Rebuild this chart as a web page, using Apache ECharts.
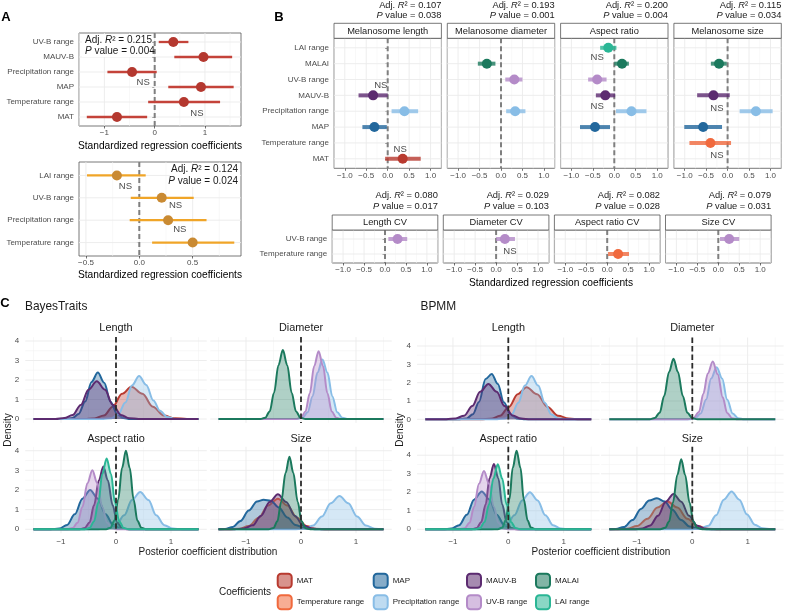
<!DOCTYPE html>
<html>
<head>
<meta charset="utf-8">
<script src="https://cdn.jsdelivr.net/npm/echarts@6/dist/echarts.min.js"></script>
<style>html,body{margin:0;padding:0;background:#fff}#chart{width:785px;height:611px}</style>
</head>
<body>
<div id="chart"></div>
<script>
var FONT = "'Liberation Sans', Arial, Helvetica, sans-serif";

// coefficients, legend order
var coefNames = ['MAT', 'Temperature range', 'MAP', 'Precipitation range', 'MAUV-B', 'UV-B range', 'MALAI', 'LAI range'];
var coefColors = ['#B83A2F', '#F0693D', '#22679C', '#88BDE6', '#5C2B70', '#B48BC8', '#1B795D', '#2AB695'];

// panel A (top: red model, bottom: orange model)
var aTopCats = ['UV-B range', 'MAUV-B', 'Precipitation range', 'MAP', 'Temperature range', 'MAT'];
var aTopEst = [0.37, 0.97, -0.45, 0.92, 0.58, -0.75];
var aTopLo = [0.08, 0.39, -0.94, 0.27, -0.13, -1.35];
var aTopHi = [0.67, 1.54, 0.04, 1.57, 1.30, -0.15];
var aTopNs = [[-0.23, 3.67], [0.84, 5.78]];
var aBotCats = ['LAI range', 'UV-B range', 'Precipitation range', 'Temperature range'];
var aBotEst = [-0.21, 0.21, 0.27, 0.50];
var aBotLo = [-0.49, -0.08, -0.09, 0.12];
var aBotHi = [0.06, 0.51, 0.63, 0.89];
var aBotNs = [[-0.13, 1.47], [0.34, 2.36], [0.38, 3.41]];

// panel B
var bCats = ['LAI range', 'MALAI', 'UV-B range', 'MAUV-B', 'Precipitation range', 'MAP', 'Temperature range', 'MAT'];
var bTitles = ['Melanosome length', 'Melanosome diameter', 'Aspect ratio', 'Melanosome size'];
var bR2 = ['0.107', '0.193', '0.200', '0.115'];
var bP = ['0.038', '0.001', '0.004', '0.034'];
// rows: [coefficient, estimate, lower, upper]
var bLength = [['MAUV-B', -0.34, -0.68, 0.0], ['Precipitation range', 0.39, 0.09, 0.71], ['MAP', -0.31, -0.59, -0.02], ['MAT', 0.35, -0.06, 0.77]];
var bDiameter = [['MALAI', -0.33, -0.54, -0.13], ['UV-B range', 0.31, 0.10, 0.50], ['Precipitation range', 0.33, 0.12, 0.57]];
var bAspect = [['LAI range', -0.14, -0.33, 0.05], ['MALAI', 0.18, 0.0, 0.34], ['UV-B range', -0.40, -0.61, -0.18], ['MAUV-B', -0.21, -0.43, 0.02], ['Precipitation range', 0.40, 0.04, 0.75], ['MAP', -0.45, -0.80, -0.10]];
var bSize = [['MALAI', -0.20, -0.39, -0.02], ['MAUV-B', -0.33, -0.71, 0.05], ['Precipitation range', 0.66, 0.28, 1.05], ['MAP', -0.57, -1.01, -0.13], ['Temperature range', -0.40, -0.89, 0.08]];
var bNs = [[[-0.16, 3.39], [0.29, 7.43]], [], [[-0.40, 1.58], [-0.40, 4.72]], [[-0.25, 4.80], [-0.25, 7.78]]];

var cvCats = ['UV-B range', 'Temperature range'];
var cvTitles = ['Length CV', 'Diameter CV', 'Aspect ratio CV', 'Size CV'];
var cvR2 = ['0.080', '0.029', '0.082', '0.079'];
var cvP = ['0.017', '0.103', '0.028', '0.031'];
var cvRows = [[['UV-B range', 0.30, 0.08, 0.53]], [['UV-B range', 0.21, 0.0, 0.45]], [['Temperature range', 0.26, 0.02, 0.52]], [['UV-B range', 0.26, 0.04, 0.50]]];
var cvNs = [[], [[0.33, 1.8]], [], []];

// panel C, posterior densities: [coefficient, [[x, density], ...]]
var btLength = [
    ['MAT', [[-1.5, 0], [-0.58, 0], [-0.39, 0.03], [-0.22, 0.18], [-0.06, 0.63], [0.11, 1.29], [0.28, 1.65], [0.48, 1.29], [0.67, 0.63], [0.87, 0.18], [1.06, 0.04], [1.29, 0], [1.5, 0]]],
    ['MAP', [[-1.5, 0], [-0.92, 0], [-0.79, 0.05], [-0.68, 0.26], [-0.56, 0.9], [-0.445, 1.9], [-0.33, 2.38], [-0.215, 1.86], [-0.1, 0.89], [0.02, 0.26], [0.13, 0.05], [0.26, 0], [1.5, 0]]],
    ['Precipitation range', [[-1.5, 0], [-0.23, 0], [-0.08, 0.04], [0.04, 0.24], [0.17, 0.84], [0.29, 1.72], [0.42, 2.2], [0.55, 1.75], [0.68, 0.95], [0.8, 0.42], [0.93, 0.1], [1.08, 0], [1.5, 0]]],
    ['MAUV-B', [[-1.5, 0], [-1.1, 0], [-0.94, 0.05], [-0.79, 0.2], [-0.64, 0.72], [-0.5, 1.5], [-0.35, 1.93], [-0.2, 1.5], [-0.06, 0.73], [0.09, 0.21], [0.24, 0.04], [0.41, 0], [1.5, 0]]]
];
var btDiameter = [
    ['Precipitation range', [[-1.5, 0], [-0.08, 0], [0.03, 0.06], [0.12, 0.34], [0.21, 1.16], [0.3, 2.38], [0.39, 3.05], [0.48, 2.38], [0.57, 1.16], [0.66, 0.34], [0.75, 0.06], [0.86, 0], [1.5, 0]]],
    ['UV-B range', [[-1.5, 0], [-0.09, 0], [0.0, 0.07], [0.08, 0.38], [0.16, 1.32], [0.24, 2.72], [0.32, 3.48], [0.4, 2.72], [0.48, 1.32], [0.56, 0.38], [0.64, 0.07], [0.73, 0], [1.5, 0]]],
    ['MALAI', [[-1.5, 0], [-0.74, 0], [-0.65, 0.07], [-0.57, 0.39], [-0.49, 1.35], [-0.41, 2.76], [-0.33, 3.54], [-0.25, 2.76], [-0.17, 1.35], [-0.09, 0.39], [-0.01, 0.07], [0.08, 0], [1.5, 0]]]
];
var btAspect = [
    ['MAP', [[-1.5, 0], [-1.19, 0], [-1.03, 0.04], [-0.89, 0.22], [-0.75, 0.76], [-0.61, 1.56], [-0.47, 2.0], [-0.33, 1.56], [-0.19, 0.76], [-0.05, 0.22], [0.09, 0.04], [0.25, 0], [1.5, 0]]],
    ['Precipitation range', [[-1.5, 0], [-0.32, 0], [-0.15, 0.04], [0.0, 0.21], [0.15, 0.71], [0.29, 1.49], [0.44, 1.9], [0.59, 1.49], [0.73, 0.71], [0.88, 0.21], [1.03, 0.04], [1.2, 0], [1.5, 0]]],
    ['MAUV-B', [[-1.5, 0], [-0.66, 0], [-0.57, 0.06], [-0.48, 0.35], [-0.4, 1.22], [-0.31, 2.5], [-0.23, 3.2], [-0.15, 2.5], [-0.06, 1.22], [0.02, 0.35], [0.11, 0.06], [0.2, 0], [1.5, 0]]],
    ['UV-B range', [[-1.5, 0], [-0.9, 0], [-0.79, 0.06], [-0.7, 0.33], [-0.61, 1.14], [-0.52, 2.34], [-0.43, 3.0], [-0.34, 2.34], [-0.25, 1.14], [-0.16, 0.33], [-0.07, 0.06], [0.04, 0], [1.5, 0]]],
    ['MALAI', [[-1.5, 0], [-0.18, 0], [-0.1, 0.08], [-0.03, 0.44], [0.04, 1.52], [0.11, 3.12], [0.18, 4.0], [0.25, 3.12], [0.32, 1.52], [0.39, 0.44], [0.46, 0.08], [0.54, 0], [1.5, 0]]],
    ['LAI range', [[-1.5, 0], [-0.57, 0], [-0.48, 0.07], [-0.4, 0.4], [-0.32, 1.37], [-0.25, 2.81], [-0.17, 3.6], [-0.09, 2.81], [-0.02, 1.37], [0.06, 0.4], [0.14, 0.07], [0.23, 0], [1.5, 0]]]
];
var btSize = [
    ['Temperature range', [[-1.5, 0], [-1.32, 0], [-1.12, 0.03], [-0.95, 0.17], [-0.77, 0.59], [-0.6, 1.21], [-0.42, 1.55], [-0.25, 1.21], [-0.07, 0.59], [0.1, 0.17], [0.28, 0.03], [0.48, 0], [1.5, 0]]],
    ['MAP', [[-1.5, 0], [-1.38, 0.02], [-1.24, 0.12], [-1.1, 0.42], [-0.95, 0.95], [-0.8, 1.42], [-0.68, 1.5], [-0.55, 1.45], [-0.4, 1.1], [-0.25, 0.6], [-0.1, 0.22], [0.08, 0.04], [0.25, 0], [1.5, 0]]],
    ['Precipitation range', [[-1.5, 0], [-0.13, 0], [0.06, 0.03], [0.22, 0.19], [0.38, 0.65], [0.54, 1.33], [0.7, 1.7], [0.86, 1.33], [1.02, 0.65], [1.18, 0.19], [1.34, 0.03], [1.5, 0]]],
    ['MAUV-B', [[-1.5, 0], [-1.21, 0], [-1.04, 0.04], [-0.88, 0.2], [-0.73, 0.68], [-0.57, 1.39], [-0.42, 1.78], [-0.27, 1.39], [-0.11, 0.68], [0.04, 0.2], [0.2, 0.04], [0.37, 0], [1.5, 0]]],
    ['MALAI', [[-1.5, 0], [-0.59, 0], [-0.5, 0.07], [-0.43, 0.41], [-0.36, 1.4], [-0.28, 2.88], [-0.21, 3.69], [-0.14, 2.88], [-0.06, 1.4], [0.01, 0.41], [0.08, 0.07], [0.17, 0], [1.5, 0]]]
];
var bpLength = [
    ['MAT', [[-1.5, 0], [-0.5, 0], [-0.31, 0.03], [-0.15, 0.19], [0.01, 0.67], [0.17, 1.37], [0.33, 1.75], [0.52, 1.37], [0.71, 0.67], [0.9, 0.19], [1.09, 0.04], [1.3, 0], [1.5, 0]]],
    ['MAP', [[-1.5, 0], [-0.88, 0], [-0.75, 0.05], [-0.64, 0.28], [-0.53, 0.95], [-0.41, 2.2], [-0.3, 2.47], [-0.19, 1.93], [-0.08, 0.93], [0.04, 0.27], [0.15, 0.05], [0.28, 0], [1.5, 0]]],
    ['Precipitation range', [[-1.5, 0], [-0.2, 0], [-0.06, 0.05], [0.06, 0.26], [0.18, 0.9], [0.3, 1.84], [0.42, 2.36], [0.54, 1.84], [0.66, 0.9], [0.78, 0.26], [0.9, 0.05], [1.04, 0], [1.5, 0]]],
    ['MAUV-B', [[-1.5, 0], [-1.12, 0], [-0.95, 0.05], [-0.8, 0.2], [-0.65, 0.72], [-0.51, 1.5], [-0.36, 1.93], [-0.21, 1.5], [-0.07, 0.73], [0.08, 0.21], [0.23, 0.04], [0.4, 0], [1.5, 0]]]
];
var bpDiameter = [
    ['Precipitation range', [[-1.5, 0], [-0.06, 0], [0.05, 0.06], [0.15, 0.31], [0.25, 1.08], [0.34, 2.22], [0.44, 2.84], [0.54, 2.22], [0.63, 1.08], [0.73, 0.31], [0.83, 0.06], [0.94, 0], [1.5, 0]]],
    ['UV-B range', [[-1.5, 0], [-0.08, 0], [0.02, 0.07], [0.12, 0.4], [0.2, 1.4], [0.28, 2.5], [0.37, 3.15], [0.46, 2.46], [0.55, 1.2], [0.63, 0.35], [0.72, 0.06], [0.82, 0], [1.5, 0]]],
    ['MALAI', [[-1.5, 0], [-0.77, 0], [-0.68, 0.07], [-0.59, 0.36], [-0.51, 1.26], [-0.42, 2.58], [-0.34, 3.31], [-0.26, 2.58], [-0.17, 1.26], [-0.09, 0.36], [0.0, 0.07], [0.09, 0], [1.5, 0]]]
];
var bpAspect = [
    ['MAP', [[-1.5, 0], [-1.18, 0], [-1.03, 0.04], [-0.89, 0.22], [-0.75, 0.78], [-0.62, 1.6], [-0.48, 2.04], [-0.34, 1.6], [-0.21, 0.78], [-0.07, 0.22], [0.07, 0.04], [0.22, 0], [1.5, 0]]],
    ['Precipitation range', [[-1.5, 0], [-0.33, 0], [-0.17, 0.04], [-0.03, 0.22], [0.11, 0.76], [0.25, 1.56], [0.39, 2.0], [0.53, 1.56], [0.67, 0.76], [0.81, 0.22], [0.95, 0.04], [1.11, 0], [1.5, 0]]],
    ['MAUV-B', [[-1.5, 0], [-0.66, 0], [-0.57, 0.07], [-0.49, 0.39], [-0.41, 1.34], [-0.34, 2.75], [-0.26, 3.53], [-0.18, 2.75], [-0.11, 1.34], [-0.03, 0.39], [0.05, 0.07], [0.14, 0], [1.5, 0]]],
    ['UV-B range', [[-1.5, 0], [-0.89, 0], [-0.79, 0.06], [-0.7, 0.35], [-0.62, 1.2], [-0.53, 2.46], [-0.44, 3.15], [-0.35, 2.46], [-0.26, 1.2], [-0.18, 0.35], [-0.09, 0.06], [0.01, 0], [1.5, 0]]],
    ['MALAI', [[-1.5, 0], [-0.19, 0], [-0.11, 0.09], [-0.05, 0.47], [0.02, 1.62], [0.08, 3.32], [0.15, 4.25], [0.22, 3.32], [0.28, 1.62], [0.35, 0.47], [0.41, 0.09], [0.49, 0], [1.5, 0]]],
    ['LAI range', [[-1.5, 0], [-0.6, 0], [-0.51, 0.07], [-0.43, 0.39], [-0.35, 1.33], [-0.27, 2.74], [-0.19, 3.51], [-0.11, 2.74], [-0.03, 1.33], [0.05, 0.39], [0.13, 0.07], [0.22, 0], [1.5, 0]]]
];
var bpSize = [
    ['Temperature range', [[-1.5, 0], [-1.39, 0], [-1.18, 0.03], [-1.0, 0.17], [-0.81, 0.57], [-0.63, 1.17], [-0.45, 1.5], [-0.27, 1.17], [-0.09, 0.57], [0.1, 0.17], [0.28, 0.03], [0.49, 0], [1.5, 0]]],
    ['MAP', [[-1.5, 0], [-1.38, 0.02], [-1.24, 0.12], [-1.08, 0.5], [-0.93, 1.1], [-0.78, 1.55], [-0.64, 1.68], [-0.5, 1.5], [-0.36, 1.05], [-0.2, 0.5], [-0.05, 0.15], [0.12, 0.02], [0.3, 0], [1.5, 0]]],
    ['Precipitation range', [[-1.5, 0], [-0.04, 0], [0.13, 0.03], [0.29, 0.19], [0.43, 0.76], [0.57, 1.6], [0.71, 2.04], [0.85, 1.6], [0.99, 0.8], [1.13, 0.25], [1.27, 0.05], [1.42, 0], [1.5, 0]]],
    ['MAUV-B', [[-1.5, 0], [-1.06, 0], [-0.9, 0.04], [-0.76, 0.21], [-0.62, 0.73], [-0.48, 1.49], [-0.34, 1.91], [-0.2, 1.49], [-0.06, 0.73], [0.08, 0.21], [0.22, 0.04], [0.38, 0], [1.5, 0]]],
    ['MALAI', [[-1.5, 0], [-0.58, 0], [-0.49, 0.08], [-0.42, 0.42], [-0.35, 1.44], [-0.27, 2.95], [-0.2, 3.78], [-0.13, 2.95], [-0.05, 1.44], [0.02, 0.42], [0.09, 0.08], [0.18, 0], [1.5, 0]]]
];

var grids = [], xAxes = [], yAxes = [], series = [], graphics = [];

function colorOf(name) { return coefColors[coefNames.indexOf(name)]; }
function fade(hex, a) {
    var n = parseInt(hex.slice(1), 16);
    return 'rgba(' + (n >> 16) + ',' + ((n >> 8) & 255) + ',' + (n & 255) + ',' + a + ')';
}
function num(v, d) { return (v < 0 ? '\u2212' : '') + Math.abs(v).toFixed(d); }
function seq(n) { var r = []; for (var i = 1; i <= n; i++) r.push(i); return r; }

function addGrid(box, x, y) {
    grids.push(box);
    var i = grids.length - 1;
    x.gridIndex = i; y.gridIndex = i;
    xAxes.push(x); yAxes.push(y);
    return i;
}

function txt(x, y, text, o) {
    o = o || {};
    var al = o.align || 'center';
    graphics.push({
        type: 'text', x: x, y: y, z: 100, silent: true, rotation: o.rot || 0,
        style: {
            text: text, fill: o.color || '#1A1A1A', fontSize: o.size || 10, fontFamily: FONT,
            fontWeight: o.weight || 'normal', align: al, textAlign: al,
            verticalAlign: 'middle', textVerticalAlign: 'middle', rich: o.rich
        }
    });
}
function rect(x, y, w, h, fill, stroke) {
    graphics.push({
        type: 'rect', z: 90, silent: true, shape: {x: x, y: y, width: w, height: h},
        style: {fill: fill, stroke: stroke || null, lineWidth: stroke ? 0.8 : 0}
    });
}
function statText(x, y1, y2, r2, p, align, size) {
    var rich = {
        a: {fontSize: size, fontFamily: FONT, fill: '#1A1A1A'},
        i: {fontSize: size, fontFamily: FONT, fill: '#1A1A1A', fontStyle: 'italic'}
    };
    txt(x, y1, '{a|Adj. }{i|R}{a|\u00B2 = ' + r2 + '}', {align: align, rich: rich, size: size});
    txt(x, y2, '{i|P}{a| value = ' + p + '}', {align: align, rich: rich, size: size});
}

// straight reference lines through the library's scales
function refLines(gi, vals, orient, style, z, ref) {
    series.push({
        type: 'custom', xAxisIndex: gi, yAxisIndex: gi, silent: true, z: z,
        data: vals.map(function (v) { return orient === 'v' ? [v, ref] : [ref, v]; }),
        renderItem: function (params, api) {
            var cs = params.coordSys, p = api.coord([api.value(0), api.value(1)]);
            var shape = orient === 'v'
                ? {x1: p[0], y1: cs.y, x2: p[0], y2: cs.y + cs.height}
                : {x1: cs.x, y1: p[1], x2: cs.x + cs.width, y2: p[1]};
            return {type: 'line', shape: shape, style: style};
        }
    });
}

function nsLabels(gi, pts) {
    if (!pts.length) return;
    series.push({
        type: 'custom', xAxisIndex: gi, yAxisIndex: gi, silent: true, z: 6,
        data: pts,
        renderItem: function (params, api) {
            var p = api.coord([api.value(0), api.value(1)]);
            return {
                type: 'text', x: p[0], y: p[1],
                style: {text: 'NS', fill: '#4D4D4D', fontSize: 9.5, fontFamily: FONT,
                    align: 'center', textAlign: 'center', verticalAlign: 'middle', textVerticalAlign: 'middle'}
            };
        }
    });
}

function bwX(min, max, ticks, dec, showLabel) {
    return {
        type: 'value', min: min, max: max,
        axisLine: {show: false}, splitLine: {show: false},
        axisTick: {show: true, customValues: ticks, length: 2.5, lineStyle: {color: '#333', width: 0.7}},
        axisLabel: {show: showLabel, customValues: ticks, margin: 3, fontSize: 8, color: '#4D4D4D', fontFamily: FONT,
            formatter: function (v) { return num(v, dec); }}
    };
}
function bwY(cats, showLabel) {
    return {
        type: 'value', min: 0.4, max: cats.length + 0.6, inverse: true,
        axisLine: {show: false}, splitLine: {show: false},
        axisTick: {show: showLabel, customValues: seq(cats.length), length: 2.5, lineStyle: {color: '#333', width: 0.7}},
        axisLabel: {show: showLabel, customValues: seq(cats.length), margin: 5, fontSize: 8, color: '#4D4D4D', fontFamily: FONT,
            formatter: function (v) { return cats[Math.round(v) - 1]; }}
    };
}

// one coefficient panel: rows [[name, est, lo, hi]]
function coefPanel(box, xr, ticks, minor, dec, cats, rows, ns, o) {
    var gi = addGrid(Object.assign({show: true, borderColor: '#555', borderWidth: 0.8, backgroundColor: '#fff'}, box),
        bwX(xr[0], xr[1], ticks, dec, true), bwY(cats, o.showY));
    refLines(gi, minor, 'v', {stroke: '#F3F3F3', lineWidth: 0.6}, 1, 1);
    refLines(gi, ticks, 'v', {stroke: '#EBEBEB', lineWidth: 0.9}, 1, 1);
    refLines(gi, seq(cats.length), 'h', {stroke: '#EBEBEB', lineWidth: 0.9}, 1, 0);
    refLines(gi, [0], 'v', {stroke: '#7F7F7F', lineWidth: 2, lineDash: [5, 3]}, 2, 1);
    var idx = rows.map(function (r) { return cats.indexOf(r[0]) + 1; });
    var barCol = rows.map(function (r) { return o.barColor || colorOf(r[0]); });
    var dotCol = rows.map(function (r) { return o.dotColor || colorOf(r[0]); });
    series.push({
        type: 'custom', xAxisIndex: gi, yAxisIndex: gi, silent: true, z: 3,
        encode: {x: [0, 1], y: 2},
        data: rows.map(function (r, i) { return [r[2], r[3], idx[i]]; }),
        renderItem: function (params, api) {
            var a = api.coord([api.value(0), api.value(2)]), b = api.coord([api.value(1), api.value(2)]);
            return {type: 'line', shape: {x1: a[0], y1: a[1], x2: b[0], y2: b[1]},
                style: {stroke: barCol[params.dataIndex], lineWidth: o.barWidth, opacity: o.barOpacity}};
        }
    });
    series.push({
        type: 'scatter', xAxisIndex: gi, yAxisIndex: gi, silent: true, z: 4, symbolSize: o.dot,
        data: rows.map(function (r, i) { return {value: [r[1], idx[i]], itemStyle: {color: dotCol[i], opacity: 1}}; })
    });
    nsLabels(gi, ns);
    return gi;
}

// ---------- panel A ----------
txt(6, 17, 'A', {size: 13, weight: 'bold', color: '#000'});
function rowsOf(cats, est, lo, hi) { return cats.map(function (c, i) { return [c, est[i], lo[i], hi[i]]; }); }
coefPanel({left: 79, top: 33, width: 162, height: 93}, [-1.505, 1.716], [-1, 0, 1], [-1.5, -0.5, 0.5, 1.5], 0,
    aTopCats, rowsOf(aTopCats, aTopEst, aTopLo, aTopHi), aTopNs,
    {showY: true, dotColor: '#B4382F', barColor: '#C4433A', barWidth: 2.3, barOpacity: 1, dot: 10});
rect(82, 34, 70, 23, '#fff');
statText(85, 40.5, 51.5, '0.215', '0.004', 'left', 10);
txt(160, 146, 'Standardized regression coefficients', {size: 10.2, color: '#000'});

coefPanel({left: 79, top: 162, width: 162, height: 94}, [-0.565, 0.953], [-0.5, 0, 0.5], [-0.25, 0.25, 0.75], 1,
    aBotCats, rowsOf(aBotCats, aBotEst, aBotLo, aBotHi), aBotNs,
    {showY: true, dotColor: '#C98A33', barColor: '#F0A528', barWidth: 2.3, barOpacity: 1, dot: 10});
rect(170, 163, 70, 24, '#fff');
statText(238, 169.5, 181, '0.124', '0.024', 'right', 10);
txt(160, 275, 'Standardized regression coefficients', {size: 10.2, color: '#000'});

// ---------- panel B ----------
txt(279, 17, 'B', {size: 13, weight: 'bold', color: '#000'});
var bRows = [bLength, bDiameter, bAspect, bSize];
var bTicks = [-1, -0.5, 0, 0.5, 1], bMinor = [-1.25, -0.75, -0.25, 0.25, 0.75, 1.25];
bRows.forEach(function (rows, k) {
    var left = 334 + k * 113.3, w = 107.4;
    coefPanel({left: left, top: 38.3, width: w, height: 130}, [-1.252, 1.252], bTicks, bMinor, 1,
        bCats, rows, bNs[k], {showY: k === 0, barWidth: 4, barOpacity: 0.8, dot: 10});
    rect(left, 23.3, w, 15, '#fff', '#555');
    txt(left + w / 2, 31, bTitles[k], {size: 9.3});
    statText(left + w, 5.5, 15.7, bR2[k], bP[k], 'right', 9.3);
});
cvRows.forEach(function (rows, k) {
    var left = 332.2 + k * 111.1, w = 105.6;
    coefPanel({left: left, top: 230, width: w, height: 33}, [-1.26, 1.26], bTicks, bMinor, 1,
        cvCats, rows, cvNs[k], {showY: k === 0, barWidth: 4, barOpacity: 0.8, dot: 10});
    rect(left, 215, w, 15, '#fff', '#555');
    txt(left + w / 2, 222.7, cvTitles[k], {size: 9.3});
    statText(left + w, 195.7, 206.7, cvR2[k], cvP[k], 'right', 9.3);
});
txt(551, 283, 'Standardized regression coefficients', {size: 10.2, color: '#000'});

// ---------- panel C ----------
txt(5, 303, 'C', {size: 13, weight: 'bold', color: '#000'});
function densityPanel(box, ymax, curves, title, titleY, showY, showX) {
    var gi = addGrid(box, {
        type: 'value', min: -1.65, max: 1.65,
        axisLine: {show: false}, axisTick: {show: false}, splitLine: {show: false},
        axisLabel: {show: showX, customValues: [-1, 0, 1], margin: 5, fontSize: 8, color: '#4D4D4D', fontFamily: FONT,
            formatter: function (v) { return num(v, 0); }}
    }, {
        type: 'value', min: -ymax * 0.05, max: ymax * 1.05,
        axisLine: {show: false}, axisTick: {show: false}, splitLine: {show: false},
        axisLabel: {show: showY, customValues: [0, 1, 2, 3, 4], margin: 6, fontSize: 8, color: '#4D4D4D', fontFamily: FONT}
    });
    refLines(gi, [-1.5, -0.5, 0.5, 1.5], 'v', {stroke: '#F3F3F3', lineWidth: 0.6}, 1, 0);
    refLines(gi, [0.5, 1.5, 2.5, 3.5], 'h', {stroke: '#F3F3F3', lineWidth: 0.6}, 1, 0);
    refLines(gi, [-1, 0, 1], 'v', {stroke: '#EBEBEB', lineWidth: 0.9}, 1, 0);
    refLines(gi, [0, 1, 2, 3, 4], 'h', {stroke: '#EBEBEB', lineWidth: 0.9}, 1, 0);
    curves.forEach(function (c, i) {
        var col = colorOf(c[0]);
        series.push({
            type: 'line', name: c[0], xAxisIndex: gi, yAxisIndex: gi, data: c[1],
            smooth: 0.35, smoothMonotone: 'x', symbol: 'none', showSymbol: false, silent: true, z: 2 + i * 0.01,
            lineStyle: {color: col, width: 2}, itemStyle: {color: col},
            areaStyle: {color: fade(col, 0.5)}, emphasis: {disabled: true}
        });
    });
    refLines(gi, [0], 'v', {stroke: '#2B2B2B', lineWidth: 1.8, lineDash: [5.5, 3]}, 5, 0);
    txt(box.left + box.width / 2, titleY, title, {size: 10.9});
}
// BayesTraits block
txt(25, 306.5, 'BayesTraits', {size: 11.9, align: 'left'});
densityPanel({left: 25.25, top: 337.1, width: 181.5, height: 85.8}, 4.0, btLength, 'Length', 327.7, true, false);
densityPanel({left: 210.25, top: 337.1, width: 181.5, height: 85.8}, 4.0, btDiameter, 'Diameter', 327.7, false, false);
densityPanel({left: 25.25, top: 446.8, width: 181.5, height: 86.4}, 4.0, btAspect, 'Aspect ratio', 439.3, true, true);
densityPanel({left: 210.25, top: 446.8, width: 181.5, height: 86.4}, 4.0, btSize, 'Size', 439.3, false, true);
txt(8.5, 430, 'Density', {size: 10, rot: Math.PI / 2});
txt(208, 552.5, 'Posterior coefficient distribution', {size: 10});
// BPMM block
txt(420.5, 306.5, 'BPMM', {size: 11.9, align: 'left'});
densityPanel({left: 417.05, top: 337.5, width: 182.5, height: 85.7}, 4.25, bpLength, 'Length', 327.7, true, false);
densityPanel({left: 601.05, top: 337.5, width: 182.5, height: 85.7}, 4.25, bpDiameter, 'Diameter', 327.7, false, false);
densityPanel({left: 417.05, top: 446.7, width: 182.5, height: 86.5}, 4.25, bpAspect, 'Aspect ratio', 439.3, true, true);
densityPanel({left: 601.05, top: 446.7, width: 182.5, height: 86.5}, 4.25, bpSize, 'Size', 439.3, false, true);
txt(400, 430, 'Density', {size: 10, rot: Math.PI / 2});
txt(601, 552.5, 'Posterior coefficient distribution', {size: 10});

// legend, column-major like ggplot
txt(219, 592.3, 'Coefficients', {size: 10, align: 'left'});
var legendLeft = [276.7, 372.7, 466, 535];
var legends = legendLeft.map(function (left, c) {
    return {
        orient: 'vertical', left: left, top: 572.7, height: 60, padding: 0, itemWidth: 14, itemHeight: 14, itemGap: 5.5,
        selectedMode: false, textStyle: {fontSize: 8, color: '#1A1A1A', fontFamily: FONT},
        data: [coefNames[2 * c], coefNames[2 * c + 1]].map(function (n) {
            var col = colorOf(n);
            return {name: n, icon: 'roundRect', itemStyle: {color: fade(col, 0.55), borderColor: col, borderWidth: 2}};
        })
    };
});

var chart = echarts.init(document.getElementById('chart'));
chart.setOption({
    animation: false,
    backgroundColor: '#fff',
    textStyle: {fontFamily: FONT},
    grid: grids,
    xAxis: xAxes,
    yAxis: yAxes,
    legend: legends,
    graphic: graphics,
    series: series
});
</script>
</body>
</html>
